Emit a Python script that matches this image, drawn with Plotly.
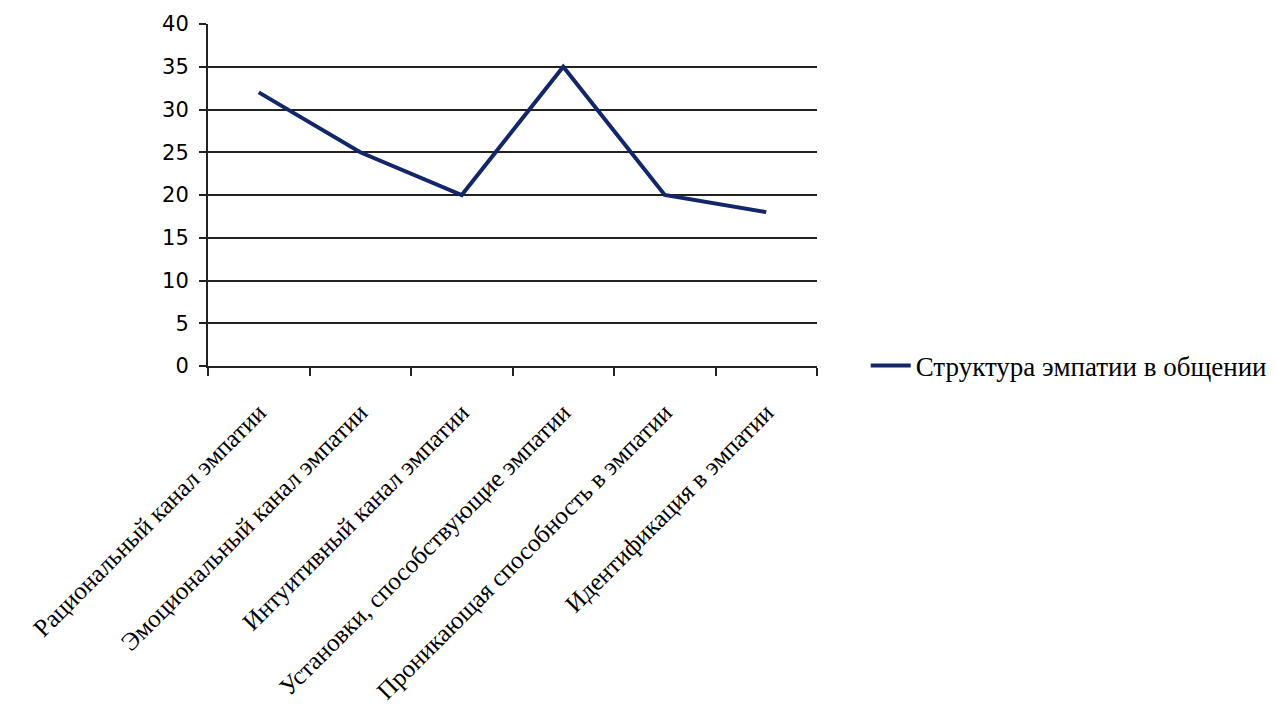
import plotly.graph_objects as go

# Structure of empathy in communication
categories = [
    "Рациональный канал эмпатии",
    "Эмоциональный канал эмпатии",
    "Интуитивный канал эмпатии",
    "Установки, способствующие эмпатии",
    "Проникающая способность в эмпатии",
    "Идентификация в эмпатии",
]
values = [32, 25, 20, 35, 20, 18]
series_name = "Структура эмпатии в общении"
y_ticks = [0, 5, 10, 15, 20, 25, 30, 35, 40]

fig = go.Figure()
fig.add_trace(go.Scatter(
    x=categories,
    y=values,
    mode="lines",
    name=series_name,
    line=dict(color="#13266a", width=4),
))

fig.update_layout(
    width=1277,
    height=715,
    margin=dict(l=208, r=460, t=24, b=349, autoexpand=False),
    paper_bgcolor="white",
    plot_bgcolor="white",
    showlegend=True,
    legend=dict(
        x=1.08, xanchor="left",
        y=0.0, yanchor="middle",
        font=dict(family="Liberation Serif", size=27, color="black"),
        bgcolor="rgba(0,0,0,0)",
        itemwidth=40,
    ),
    xaxis=dict(
        type="category",
        range=[-0.5, len(categories) - 0.5],
        tickson="boundaries",
        ticks="outside",
        ticklen=8,
        tickwidth=1.5,
        tickcolor="#222",
        tickangle=-45,
        showline=True,
        linecolor="#222",
        linewidth=2,
        showgrid=False,
        tickfont=dict(family="Liberation Serif", size=25, color="black"),
        ticklabelstandoff=20,
        automargin=False,
        fixedrange=True,
    ),
    yaxis=dict(
        range=[0, 40],
        tickvals=y_ticks,
        ticks="outside",
        ticklen=7,
        tickwidth=1.5,
        tickcolor="#222",
        showline=True,
        linecolor="#222",
        linewidth=2,
        showgrid=True,
        gridcolor="#222",
        gridwidth=1.5,
        zeroline=False,
        tickfont=dict(family="DejaVu Sans", size=21, color="black"),
        ticklabelstandoff=6,
        automargin=False,
        fixedrange=True,
    ),
)

fig.write_html("out.html")
